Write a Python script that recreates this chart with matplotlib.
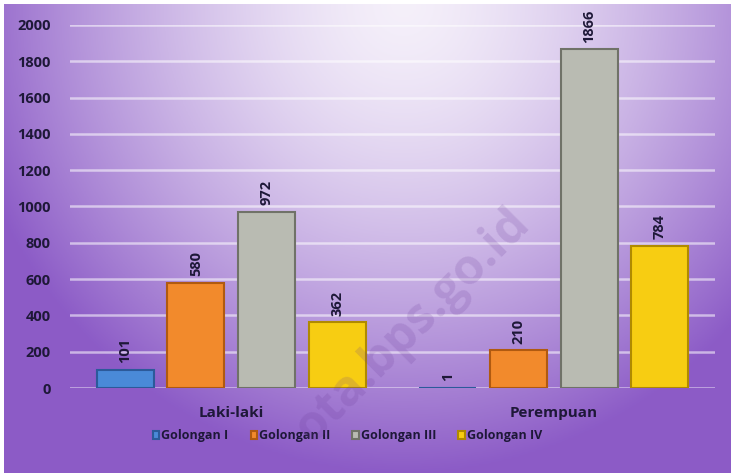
import matplotlib.pyplot as plt
import numpy as np

# data
categories = ["Laki-laki", "Perempuan"]
series = ["Golongan I", "Golongan II", "Golongan III", "Golongan IV"]
gol_1 = [101, 1]
gol_2 = [580, 210]
gol_3 = [972, 1866]
gol_4 = [362, 784]
yticks = [0, 200, 400, 600, 800, 1000, 1200, 1400, 1600, 1800, 2000]

colors = ["#4a8ad8", "#f28a2c", "#b9bbb2", "#f7cd12"]
edges = ["#2c5a9a", "#b05a10", "#707268", "#b08a00"]
txt = "#1e1838"
plt.rcParams["font.family"] = ["Open Sans", "DejaVu Sans"]

fig = plt.figure(figsize=(7.31, 4.73), dpi=100)

# gradient background
bg = fig.add_axes([4 / 731, 0, 1 - 4 / 731, 1 - 4 / 473])
h, w = 200, 300
yy, xx = np.mgrid[0:1:h * 1j, 0:1:w * 1j]
t = np.sqrt(((xx - 0.55) / 0.62) ** 2 + (yy / 1.0) ** 2)
t = np.clip(t, 0, 1) ** 1.5
light = np.array([0.96, 0.94, 0.98])
purple = np.array([0.55, 0.36, 0.78])
img = light[None, None, :] * (1 - t[..., None]) + purple[None, None, :] * t[..., None]
bg.imshow(img, aspect="auto", extent=[0, 1, 0, 1], origin="upper")
bg.axis("off")

ax = fig.add_axes([70 / 731, 1 - 388 / 473, 645 / 731, 363 / 473])
ax.set_facecolor("none")

x = np.arange(len(categories))
width = 0.177
step = 0.219
for i, vals in enumerate([gol_1, gol_2, gol_3, gol_4]):
    pos = x + (i - 1.5) * step
    ax.bar(pos, vals, width, color=colors[i], edgecolor=edges[i],
           linewidth=1.5, label=series[i], zorder=3)
    for p, v in zip(pos, vals):
        ax.text(p, v + 35, str(v), rotation=90, ha="center", va="bottom",
                fontsize=10.5, fontweight="bold", color=txt, zorder=4)

ax.set_xlim(-0.5, 1.5)
ax.set_ylim(0, 2000)
ax.set_yticks(yticks)
ax.set_xticks(x)
ax.set_xticklabels(categories)
ax.yaxis.grid(True, color="white", alpha=0.55, linewidth=1.8, zorder=0)
ax.set_axisbelow(True)
for s in ax.spines.values():
    s.set_visible(False)
ax.tick_params(axis="y", length=0, pad=14, labelsize=10.5, labelcolor=txt)
ax.tick_params(axis="x", length=0, pad=13, labelsize=11, labelcolor=txt)
for lab in ax.get_xticklabels() + ax.get_yticklabels():
    lab.set_fontweight("bold")

leg = ax.legend(loc="center", bbox_to_anchor=(0.43, -0.132), ncol=4,
                frameon=False, handlelength=0.5, handleheight=0.5,
                handletextpad=0.15, columnspacing=1.8,
                prop={"weight": "bold", "size": 9})
for t_ in leg.get_texts():
    t_.set_color(txt)

# faint watermark
fig.text(0.565, 0.31, "ota.bps.go.id", rotation=45, ha="center", va="center",
         fontsize=35, fontweight="bold", color="#6a3a98", alpha=0.18)

fig.savefig("out.png", dpi=100)
